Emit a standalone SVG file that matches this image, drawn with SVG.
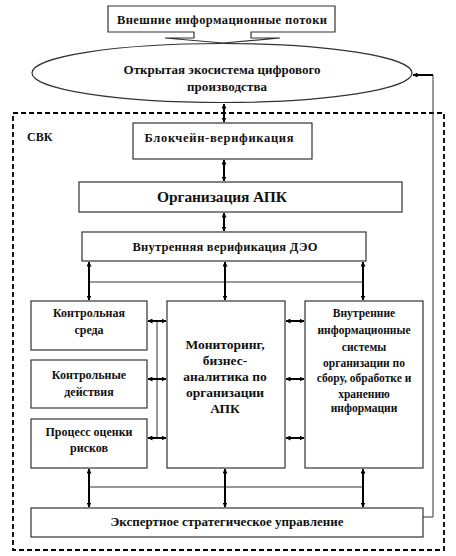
<svg xmlns="http://www.w3.org/2000/svg" width="456" height="556" viewBox="0 0 456 556">
<defs>
<marker id="ah" viewBox="0 0 10 10" refX="9" refY="5" markerWidth="5" markerHeight="5" orient="auto-start-reverse" markerUnits="userSpaceOnUse">
<path d="M0,0 L10,5 L0,10 z" fill="#000"/>
</marker>
<style>
.box{fill:#fff;stroke:#333;stroke-width:1.2}
.t{font-family:"Liberation Serif","Times New Roman",serif;font-weight:bold;text-anchor:middle;fill:#111}
.c{fill:none;stroke:#000;stroke-width:2}
.th{fill:none;stroke:#333;stroke-width:1}
.dash{fill:none;stroke:#000;stroke-width:1.8;stroke-dasharray:5 3}
</style>
</defs>
<rect x="0" y="0" width="456" height="556" fill="#fff"/>
<g id="svk">
<rect class="dash" x="13" y="113" width="431" height="437"/>
<text class="t" x="27" y="141" font-size="12" style="text-anchor:start">СВК</text>
</g>
<g id="external">
<path class="box" d="M108,6 H335 V32 H251 V38 H280 L223,43 L165,38 H194 V32 H108 Z"/>
<text class="t" x="222" y="24" font-size="12.5" textLength="210" lengthAdjust="spacing">Внешние информационные потоки</text>
</g>
<g id="ecosystem">
<ellipse class="box" cx="222" cy="73" rx="190" ry="29.5"/>
<text class="t" x="222" y="74" font-size="13" textLength="197" lengthAdjust="spacing">Открытая экосистема цифрового</text>
<text class="t" x="227" y="91" font-size="13" textLength="80" lengthAdjust="spacing">производства</text>
</g>
<g id="blockchain">
<rect class="box" x="133" y="123" width="179" height="36"/>
<text class="t" x="219" y="142" font-size="12.5" textLength="149" lengthAdjust="spacing">Блокчейн-верификация</text>
</g>
<g id="org">
<rect class="box" x="79" y="182" width="323" height="30"/>
<text class="t" x="222" y="202" font-size="15.5" textLength="130" lengthAdjust="spacing">Организация АПК</text>
</g>
<g id="internal-verif">
<rect class="box" x="82" y="232" width="284" height="29"/>
<text class="t" x="225" y="251" font-size="12.5" textLength="185" lengthAdjust="spacing">Внутренняя верификация ДЭО</text>
</g>
<g id="control-env">
<rect class="box" x="31" y="301" width="116" height="49"/>
<text class="t" x="89" y="317" font-size="12">Контрольная</text>
<text class="t" x="89" y="334" font-size="12">среда</text>
</g>
<g id="control-act">
<rect class="box" x="31" y="360" width="116" height="48"/>
<text class="t" x="89" y="379" font-size="12">Контрольные</text>
<text class="t" x="89" y="396" font-size="12">действия</text>
</g>
<g id="risk">
<rect class="box" x="31" y="419" width="116" height="49"/>
<text class="t" x="89" y="436" font-size="12">Процесс оценки</text>
<text class="t" x="89" y="452" font-size="12">рисков</text>
</g>
<g id="monitoring">
<rect class="box" x="167" y="301" width="118" height="167"/>
<text class="t" x="225" y="349" font-size="13.5">Мониторинг,</text>
<text class="t" x="225" y="365" font-size="13.5">бизнес-</text>
<text class="t" x="225" y="381" font-size="13.5">аналитика по</text>
<text class="t" x="225" y="397" font-size="13.5">организации</text>
<text class="t" x="225" y="413" font-size="13.5">АПК</text>
</g>
<g id="internal-is">
<rect class="box" x="305" y="301" width="118" height="167"/>
<text class="t" x="364" y="317" font-size="11.5">Внутренние</text>
<text class="t" x="364" y="334" font-size="11.5">информационные</text>
<text class="t" x="364" y="351" font-size="11.5">системы</text>
<text class="t" x="364" y="367" font-size="11.5">организации по</text>
<text class="t" x="364" y="382" font-size="11.5">сбору, обработке и</text>
<text class="t" x="364" y="398" font-size="11.5">хранению</text>
<text class="t" x="364" y="412" font-size="11.5">информации</text>
</g>
<g id="expert">
<rect class="box" x="31" y="508" width="392" height="29"/>
<text class="t" x="227" y="526" font-size="13" textLength="233" lengthAdjust="spacing">Экспертное стратегическое управление</text>
</g>
<g id="connectors">
<line class="c" x1="224" y1="104" x2="224" y2="122" marker-start="url(#ah)" marker-end="url(#ah)"/>
<line class="c" x1="224" y1="160" x2="224" y2="181" marker-start="url(#ah)" marker-end="url(#ah)"/>
<line class="c" x1="224" y1="213" x2="224" y2="231" marker-start="url(#ah)" marker-end="url(#ah)"/>
<line class="th" x1="89" y1="282" x2="363" y2="282"/>
<line class="c" x1="89" y1="262" x2="89" y2="300" marker-start="url(#ah)" marker-end="url(#ah)"/>
<line class="c" x1="225" y1="262" x2="225" y2="300" marker-start="url(#ah)" marker-end="url(#ah)"/>
<line class="c" x1="363" y1="262" x2="363" y2="300" marker-start="url(#ah)" marker-end="url(#ah)"/>
<line class="th" x1="157" y1="321" x2="157" y2="438"/>
<line class="c" x1="148" y1="321" x2="166" y2="321" marker-start="url(#ah)" marker-end="url(#ah)"/>
<line class="c" x1="148" y1="379" x2="166" y2="379" marker-start="url(#ah)" marker-end="url(#ah)"/>
<line class="c" x1="148" y1="438" x2="166" y2="438" marker-start="url(#ah)" marker-end="url(#ah)"/>
<line class="c" x1="286" y1="321" x2="304" y2="321" marker-start="url(#ah)" marker-end="url(#ah)"/>
<line class="c" x1="286" y1="379" x2="304" y2="379" marker-start="url(#ah)" marker-end="url(#ah)"/>
<line class="c" x1="286" y1="438" x2="304" y2="438" marker-start="url(#ah)" marker-end="url(#ah)"/>
<line class="th" x1="89" y1="487" x2="363" y2="487"/>
<line class="c" x1="89" y1="469" x2="89" y2="507" marker-start="url(#ah)" marker-end="url(#ah)"/>
<line class="c" x1="225" y1="469" x2="225" y2="507" marker-start="url(#ah)" marker-end="url(#ah)"/>
<line class="c" x1="363" y1="469" x2="363" y2="507" marker-start="url(#ah)" marker-end="url(#ah)"/>
<polyline class="th" points="423,517 433,517 433,75 426,75"/>
<line class="c" x1="433" y1="75" x2="413" y2="75" marker-end="url(#ah)"/>
</g>
</svg>
